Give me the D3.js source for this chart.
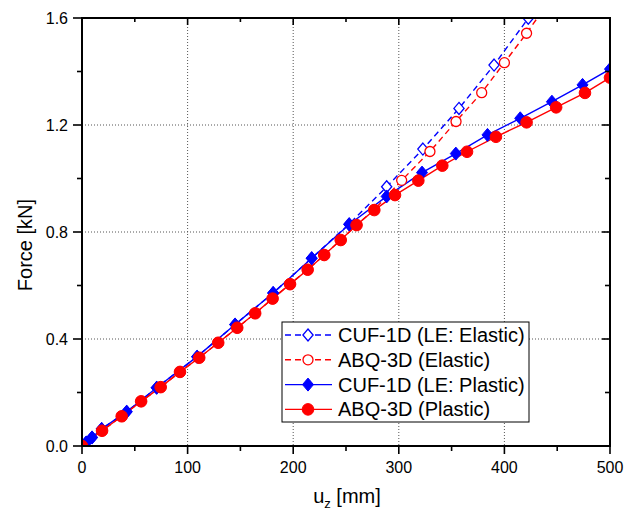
<!DOCTYPE html>
<html><head><meta charset="utf-8">
<script src="https://cdn.jsdelivr.net/npm/d3@7"></script>
<style>body{margin:0;background:#fff}svg{display:block}text{font-family:"Liberation Sans",Arial,sans-serif;fill:#000}</style>
</head><body><svg id="c" width="643" height="515"></svg>
<script>
// Data
const cufPlasticX = [0,4,9.5,18.6,42.3,70.7,109,145,181,217.5,253,288.5,322,354,384,415,445,474,500];
const cufPlasticY = [0,0.013,0.032,0.064,0.128,0.218,0.334,0.454,0.572,0.702,0.828,0.933,1.022,1.093,1.163,1.225,1.287,1.350,1.409];
const abqPlasticX = [0,19,37.6,56,74.5,92.8,111,129,147,164,180.5,197,213.7,229.4,245,260,276.8,296.4,318.5,341.2,364.6,392,421,449,476.3,500];
const abqPlasticY = [0,0.057,0.111,0.167,0.220,0.277,0.330,0.386,0.442,0.496,0.551,0.605,0.659,0.714,0.770,0.826,0.882,0.938,0.992,1.048,1.100,1.156,1.210,1.266,1.320,1.377];
const cufElasticX = [0,4,9.5,18.6,42.3,70.7,109,145,181,217.5,253,288.5,322.8,357,390.2,422.6,455];
const cufElasticY = [0,0.013,0.032,0.064,0.128,0.218,0.334,0.454,0.572,0.702,0.830,0.969,1.110,1.262,1.424,1.599,1.78];
const abqElasticX = [0,19,37.6,56,74.5,92.8,111,129,147,164,180.5,197,213.7,229.4,245,260,276.8,302.7,329.5,354.2,378.5,400,421,441];
const abqElasticY = [0,0.057,0.111,0.167,0.220,0.277,0.330,0.386,0.442,0.496,0.551,0.605,0.659,0.714,0.770,0.826,0.884,0.993,1.101,1.213,1.321,1.433,1.543,1.655];
const xTicks = [0,100,200,300,400,500];
const yTicks = [0,0.4,0.8,1.2,1.6];
const xMinor = [50,150,250,350,450];
const yMinor = [0.2,0.6,1.0,1.4];
const seriesNames = ["CUF-1D (LE: Elastic)","ABQ-3D (Elastic)","CUF-1D (LE: Plastic)","ABQ-3D (Plastic)"];

const L=82,R=610,T=18,B=446;
const svg=d3.select("#c");
const x=d3.scaleLinear().domain([0,500]).range([L,R]);
const y=d3.scaleLinear().domain([0,1.6]).range([B,T]);

// grid
const grid=svg.append("g").attr("stroke","#555").attr("stroke-width",1).attr("stroke-dasharray","1,2");
xTicks.slice(1,-1).forEach(v=>grid.append("line").attr("x1",x(v)).attr("x2",x(v)).attr("y1",T).attr("y2",B));
yTicks.slice(1,-1).forEach(v=>grid.append("line").attr("y1",y(v)).attr("y2",y(v)).attr("x1",L).attr("x2",R));

svg.append("defs").append("clipPath").attr("id","clip").append("rect").attr("x",L).attr("y",T).attr("width",R-L).attr("height",B-T);
const plot=svg.append("g").attr("clip-path","url(#clip)");

const series=[
 {xs:cufElasticX,ys:cufElasticY,color:"#0000ff",dash:"6,4",shape:"diamond",fill:false},
 {xs:abqElasticX,ys:abqElasticY,color:"#ff0000",dash:"6,4",shape:"circle",fill:false},
 {xs:cufPlasticX,ys:cufPlasticY,color:"#0000ff",dash:null,shape:"diamond",fill:true},
 {xs:abqPlasticX,ys:abqPlasticY,color:"#ff0000",dash:null,shape:"circle",fill:true}
];
const line=d3.line().x(d=>x(d[0])).y(d=>y(d[1]));
function marker(g,s,cx,cy){
  if(s.shape==="diamond"){
    const h=s.fill?6.5:6;
    g.append("path").attr("d",`M${cx},${cy-h}L${cx+h*0.85},${cy}L${cx},${cy+h}L${cx-h*0.85},${cy}Z`)
     .attr("fill",s.fill?s.color:"#fff").attr("stroke",s.color).attr("stroke-width",s.fill?1:1.3);
  } else {
    g.append("circle").attr("cx",cx).attr("cy",cy).attr("r",s.fill?5.8:5)
     .attr("fill",s.fill?s.color:"#fff").attr("stroke",s.color).attr("stroke-width",s.fill?1:1.3);
  }
}
series.forEach(s=>{
  const pts=s.xs.map((v,i)=>[v,s.ys[i]]);
  plot.append("path").datum(pts).attr("d",line).attr("fill","none").attr("stroke",s.color)
   .attr("stroke-width",1.4).attr("stroke-dasharray",s.dash);
});
series.forEach(s=>{
  const g=plot.append("g");
  s.xs.forEach((v,i)=>marker(g,s,x(v),y(s.ys[i])));
});

// axes frame
const ax=svg.append("g").attr("stroke","#000");
ax.append("rect").attr("x",L).attr("y",T).attr("width",R-L).attr("height",B-T).attr("fill","none").attr("stroke-width",2);
xTicks.forEach(v=>{
  ax.append("line").attr("x1",x(v)).attr("x2",x(v)).attr("y1",B).attr("y2",B+8).attr("stroke-width",1.6);
  ax.append("line").attr("x1",x(v)).attr("x2",x(v)).attr("y1",T).attr("y2",T+7).attr("stroke-width",1.6);
});
xMinor.forEach(v=>{
  ax.append("line").attr("x1",x(v)).attr("x2",x(v)).attr("y1",B).attr("y2",B+5).attr("stroke-width",1.6);
  ax.append("line").attr("x1",x(v)).attr("x2",x(v)).attr("y1",T).attr("y2",T+4).attr("stroke-width",1.6);
});
yTicks.forEach(v=>{
  ax.append("line").attr("y1",y(v)).attr("y2",y(v)).attr("x1",L-9).attr("x2",L).attr("stroke-width",1.6);
  ax.append("line").attr("y1",y(v)).attr("y2",y(v)).attr("x1",R-8).attr("x2",R).attr("stroke-width",1.6);
});
yMinor.forEach(v=>{
  ax.append("line").attr("y1",y(v)).attr("y2",y(v)).attr("x1",L-5).attr("x2",L).attr("stroke-width",1.6);
  ax.append("line").attr("y1",y(v)).attr("y2",y(v)).attr("x1",R-5).attr("x2",R).attr("stroke-width",1.6);
});
xTicks.forEach(v=>svg.append("text").attr("x",x(v)).attr("y",473).attr("text-anchor","middle").attr("font-size",16).text(v));
yTicks.forEach(v=>svg.append("text").attr("x",68).attr("y",y(v)+6).attr("text-anchor","end").attr("font-size",16).text(v.toFixed(1)));

const xl=svg.append("text").attr("x",347).attr("y",503).attr("text-anchor","middle").attr("font-size",20);
xl.append("tspan").text("u");
xl.append("tspan").attr("font-size",13).attr("dy",5).text("z");
xl.append("tspan").attr("dy",-5).text(" [mm]");
svg.append("text").attr("transform","translate(32,245) rotate(-90)").attr("text-anchor","middle").attr("font-size",20).text("Force [kN]");

// legend
const lg=svg.append("g");
lg.append("rect").attr("x",282).attr("y",322).attr("width",247).attr("height",100).attr("fill","#fff").attr("stroke","#000").attr("stroke-width",1);
series.forEach((s,i)=>{
  const cy=335+i*24.8;
  lg.append("line").attr("x1",285).attr("x2",332).attr("y1",cy).attr("y2",cy).attr("stroke",s.color).attr("stroke-width",1.4).attr("stroke-dasharray",s.dash);
  marker(lg,s,308,cy);
  lg.append("text").attr("x",338).attr("y",cy+7).attr("font-size",20).text(seriesNames[i]);
});
</script></body></html>
